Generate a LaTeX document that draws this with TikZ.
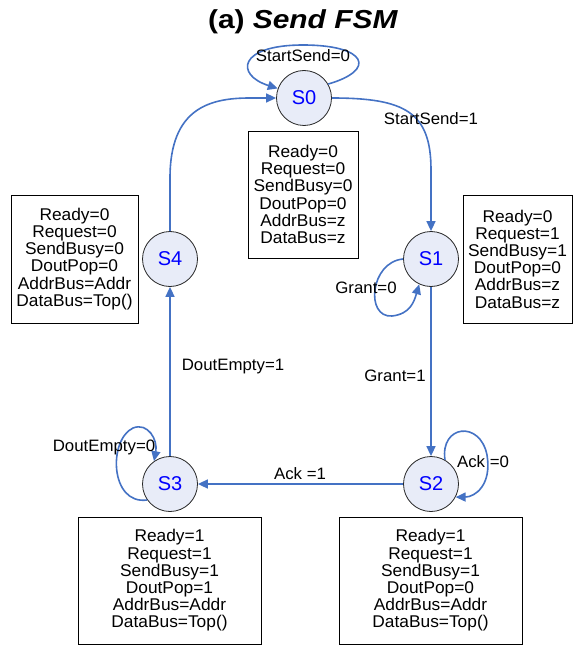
\documentclass[tikz,border=0pt]{standalone}
\usepackage{fontspec}
\setmainfont{Liberation Sans}
\newfontfamily\bodyfont[FakeStretch=1.02]{Liberation Sans}
\newfontfamily\titlefont[FakeStretch=1.15]{Liberation Sans}
\usetikzlibrary{arrows.meta}

\definecolor{edgeblue}{RGB}{68,114,196}
\definecolor{statefill}{RGB}{232,236,248}
\definecolor{labelblue}{RGB}{0,0,255}

\begin{document}
\begin{tikzpicture}[x=1pt,y=-1pt,
  state/.style={circle, draw=black!85, line width=0.8pt, fill=statefill,
    minimum size=55pt, inner sep=0pt, text=labelblue,
    font=\fontsize{20}{20}\selectfont},
  outbox/.style={draw=black, line width=0.8pt, align=center, inner sep=0pt,
    font=\bodyfont\fontsize{17}{17.2}\selectfont},
  trans/.style={draw=edgeblue, line width=1.6pt,
    -{Triangle[length=10pt,width=9pt]}},
  cond/.style={font=\bodyfont\fontsize{16.5}{16.5}\selectfont, inner sep=1pt}
]
\useasboundingbox (0,0) rectangle (580,655);

% title
\node[font=\titlefont\fontsize{26}{26}\selectfont\bfseries] (title) at (303,22)
  {(a) \textit{Send FSM}};

% states
\node[state] (s0) at (304,98)  {S0};
\node[state] (s1) at (431,259) {S1};
\node[state] (s2) at (431,484) {S2};
\node[state] (s3) at (170,484) {S3};
\node[state] (s4) at (170,259) {S4};

% output tables
\node[outbox, minimum width=110pt, minimum height=127pt] (o0) at (303,194.5)
  {Ready=0\\Request=0\\SendBusy=0\\DoutPop=0\\AddrBus=z\\DataBus=z};
\node[outbox, minimum width=109pt, minimum height=128pt] (o1) at (517.5,259)
  {Ready=0\\Request=1\\SendBusy=1\\DoutPop=0\\AddrBus=z\\DataBus=z};
\node[outbox, minimum width=127pt, minimum height=128pt] (o4) at (74.5,259)
  {Ready=0\\Request=0\\SendBusy=0\\DoutPop=0\\AddrBus=Addr\\DataBus=Top()};
\node[outbox, minimum width=183pt, minimum height=127pt] (o3) at (169.5,580.5)
  {Ready=1\\Request=1\\SendBusy=1\\DoutPop=1\\AddrBus=Addr\\DataBus=Top()};
\node[outbox, minimum width=183pt, minimum height=127pt] (o2) at (430.5,580.5)
  {Ready=1\\Request=1\\SendBusy=1\\DoutPop=0\\AddrBus=Addr\\DataBus=Top()};

% transitions
\draw[trans] (s0.30) .. controls (377,70) and (367,45) .. (303,45)
  .. controls (238,45) and (235,75) .. (s0.160);
\node[cond] (c00) at (303,56) {StartSend=0};

\draw[trans] (s0.east) .. controls (405,98) and (431,112) .. (431,170)
  -- (s1.north);
\node[cond] (c01) at (431,119) {StartSend=1};

\draw[trans] (s1.180) .. controls (370,262) and (365,318) .. (392,316)
  .. controls (410,314) and (414,302) .. (s1.245);
\node[cond] (c11) at (366,288) {Grant=0};

\draw[trans] (s1.south) -- (s2.north);
\node[cond] (c12) at (395,376) {Grant=1};

\draw[trans] (s2.60) .. controls (440,425) and (480,420) .. (487,455)
  .. controls (492,485) and (475,497) .. (s2.-28);
\node[cond] (c22) at (483,462) {Ack =0};

\draw[trans] (s2.west) -- (s3.east);
\node[cond] (c23) at (300,474) {Ack =1};

\draw[trans] (s3.215) .. controls (110,505) and (108,440) .. (133,428)
  .. controls (148,422) and (158,440) .. (s3.125);
\node[cond] (c33) at (104,447) {DoutEmpty=0};

\draw[trans] (s3.north) -- (s4.south);
\node[cond] (c34) at (233,367) {DoutEmpty=1};

\draw[trans] (s4.north) -- (170,178) .. controls (170,108) and (210,98)
  .. (250,98) -- (s0.west);
\end{tikzpicture}
\end{document}
